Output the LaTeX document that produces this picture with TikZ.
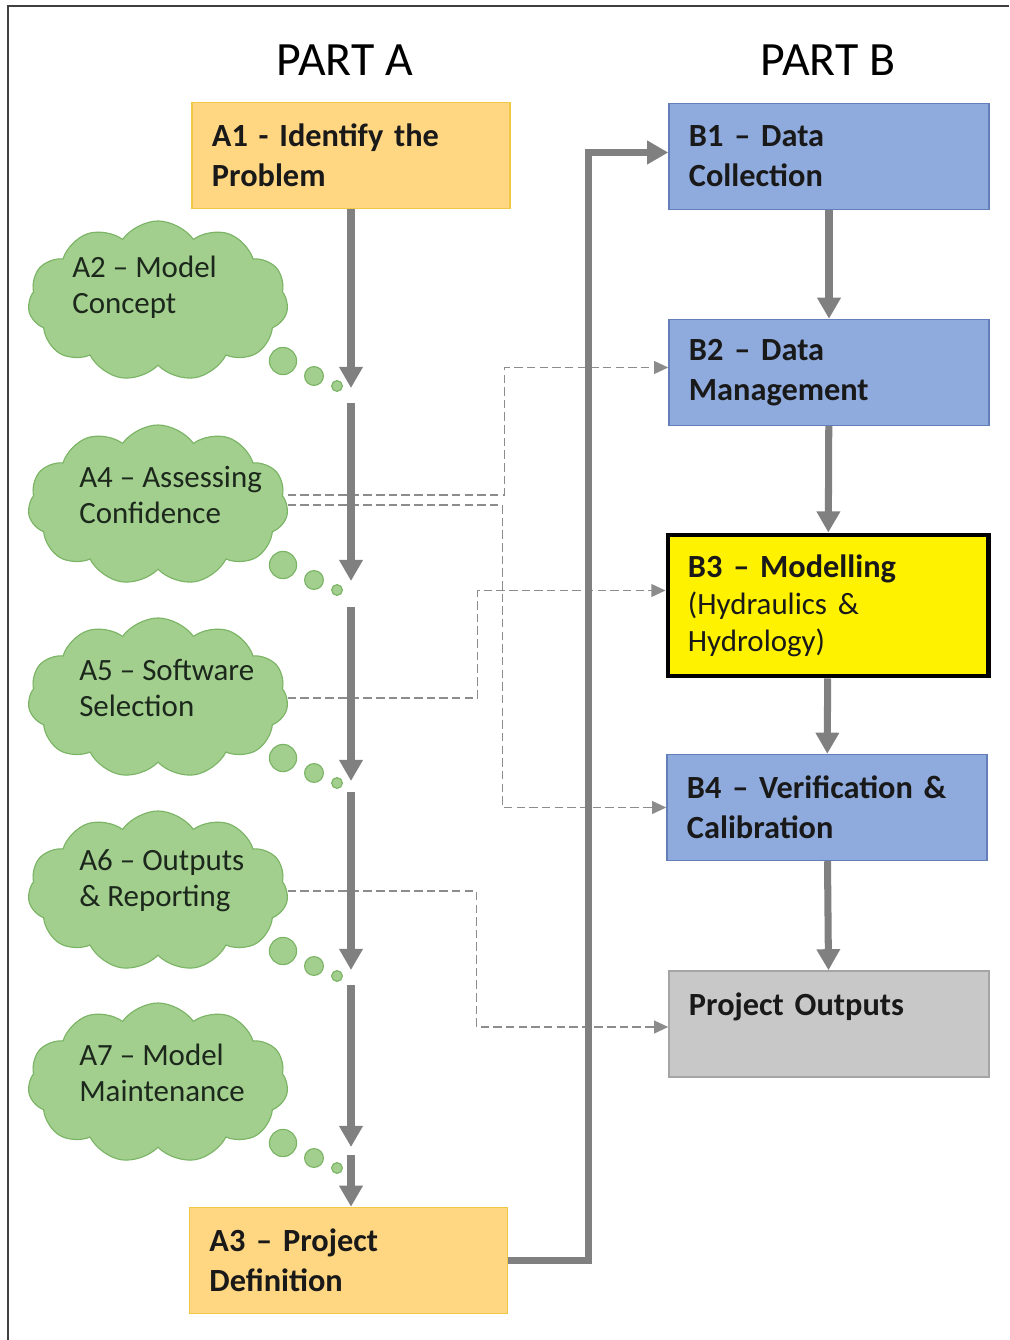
\documentclass[tikz,border=0pt]{standalone}
\usepackage{fontspec}
\setmainfont{Carlito}
\usetikzlibrary{shapes.symbols,arrows.meta,calc}

\definecolor{orangefill}{RGB}{255,214,130}
\definecolor{orangeedge}{RGB}{238,200,70}
\definecolor{bluefill}{RGB}{143,170,220}
\definecolor{blueedge}{RGB}{100,126,186}
\definecolor{greyfill}{RGB}{200,200,200}
\definecolor{greyedge}{RGB}{165,165,165}
\definecolor{cloudfill}{RGB}{162,206,142}
\definecolor{cloudedge}{RGB}{122,180,100}
\definecolor{cloudink}{RGB}{28,40,28}
\definecolor{flowgrey}{RGB}{128,128,128}
\definecolor{linkgrey}{RGB}{140,140,140}

\begin{document}
\begin{tikzpicture}[x=0.025cm,y=-0.025cm,
    box/.style={rectangle,draw,line width=1pt,minimum width=8cm,minimum height=2.65cm,
      text width=7cm,inner xsep=0.5cm,align=left,
      font=\fontsize{23}{28.5}\selectfont\bfseries,text=black!90},
    thought/.style={cloud,cloud puffs=11,cloud puff arc=110,aspect=1.6,
      fill=cloudfill,draw=cloudedge,line width=0.8pt,minimum width=6.5cm,minimum height=4cm},
    thoughttext/.style={anchor=west,align=left,inner sep=0pt,
      font=\fontsize{22}{25.6}\selectfont,text=cloudink},
    bubble/.style={circle,fill=cloudfill,draw=cloudedge,line width=0.8pt,inner sep=0pt},
    flow/.style={draw=flowgrey,line width=5pt,-{Triangle[length=15pt,width=16pt]}},
    link/.style={draw=linkgrey,line width=1.3pt,dash pattern=on 6pt off 3pt,
      -{Triangle[length=10pt,width=9pt]}}]
  \useasboundingbox (0,0) rectangle (1009,1340);
  \draw[line width=1.5pt,black!75] (8,1340) -- (8,6) -- (1009,6);

  % titles
  \node[font=\fontsize{34}{40}\selectfont] (parta) at (345,60) {PART A};
  \node[font=\fontsize{34}{40}\selectfont] (partb) at (828,60) {PART B};

  % part A
  \node[box,fill=orangefill,draw=orangeedge,minimum width=7.95cm,text width=6.95cm] (a1) at (351,155.5) {A1 - Identify the\\Problem};
  \node[box,fill=orangefill,draw=orangeedge,minimum width=7.95cm,text width=6.95cm] (a3) at (348.5,1260.5) {A3 – Project\\Definition};

  \node[thought] (c2) at (158,301) {};
  \node[thought] (c4) at (158,505) {};
  \node[thought] (c5) at (158,698) {};
  \node[thought] (c6) at (158,891) {};
  \node[thought] (c7) at (158,1083) {};
  \node[thoughttext] (t2) at ($(c2.center)+(-86,-14)$) {A2 – Model\\Concept};
  \node[thoughttext] (t4) at ($(c4.center)+(-79,-10)$) {A4 – Assessing\\Confidence};
  \node[thoughttext] (t5) at ($(c5.center)+(-79,-10)$) {A5 – Software\\Selection};
  \node[thoughttext] (t6) at ($(c6.center)+(-79,-10)$) {A6 – Outputs\\\& Reporting};
  \node[thoughttext] (t7) at ($(c7.center)+(-79,-10)$) {A7 – Model\\Maintenance};
  \foreach \c in {c2,c4,c5,c6,c7}{
    \node[bubble,minimum size=0.68cm] (\c-b1) at ($(\c.center)+(125,60)$) {};
    \node[bubble,minimum size=0.47cm] (\c-b2) at ($(\c.center)+(156,75)$) {};
    \node[bubble,minimum size=0.27cm] (\c-b3) at ($(\c.center)+(179,85)$) {};
  }

  % part B
  \node[box,fill=bluefill,draw=blueedge] (b1) at (829,156.5) {B1 – Data\\Collection};
  \node[box,fill=bluefill,draw=blueedge] (b2) at (829,372.5) {B2 – Data\\Management};
  \node[box,fill=yellow,draw=black,line width=3.5pt,minimum height=3.525cm,
    font=\fontsize{23}{26.3}\selectfont\bfseries] (b3) at (828,605.5)
    {B3 – Modelling\\\mdseries\fontsize{22}{26.3}\selectfont(Hydraulics \&\\Hydrology)};
  \node[box,fill=bluefill,draw=blueedge] (b4) at (827,807.5) {B4 – Verification \&\\Calibration};
  \node[box,fill=greyfill,draw=greyedge] (po) at (829,1024) {Project Outputs\\~};

  % dashed links
  \draw[link] ($(c4.east)+(0,-10)$) -- ++(217,0) |- ($(b2.west)+(0,-5)$);
  \draw[link] (c4.east) -- ++(215,0) |- (b4.west);
  \draw[link] (c5.east) -- ++(190,0) |- ($(b3.west)+(0,-15)$);
  \draw[link] (c6.east) -- ++(189,0) |- ($(po.west)+(0,3)$);

  % main flow
  \coordinate (p1) at (351,388);
  \coordinate (q1) at (351,403);
  \coordinate (p2) at (351,581);
  \coordinate (q2) at (351,607);
  \coordinate (p3) at (351,781);
  \coordinate (q3) at (351,792);
  \coordinate (p4) at (351,970);
  \coordinate (q4) at (351,985);
  \coordinate (p5) at (351,1147);
  \coordinate (q5) at (351,1155);
  \draw[flow] (a1) -- (p1);
  \draw[flow] (q1) -- (p2);
  \draw[flow] (q2) -- (p3);
  \draw[flow] (q3) -- (p4);
  \draw[flow] (q4) -- (p5);
  \draw[flow] (q5) -- (q5 |- a3.north);
  \draw[flow] (a3.east) -- ++(80,0) |- ($(b1.west)+(0,-4)$);
  \draw[flow] (b1) -- (b2);
  \draw[flow] (b2) -- (b3);
  \draw[flow] (b3) -- (b4);
  \draw[flow] (b4) -- (po);
\end{tikzpicture}
\end{document}
